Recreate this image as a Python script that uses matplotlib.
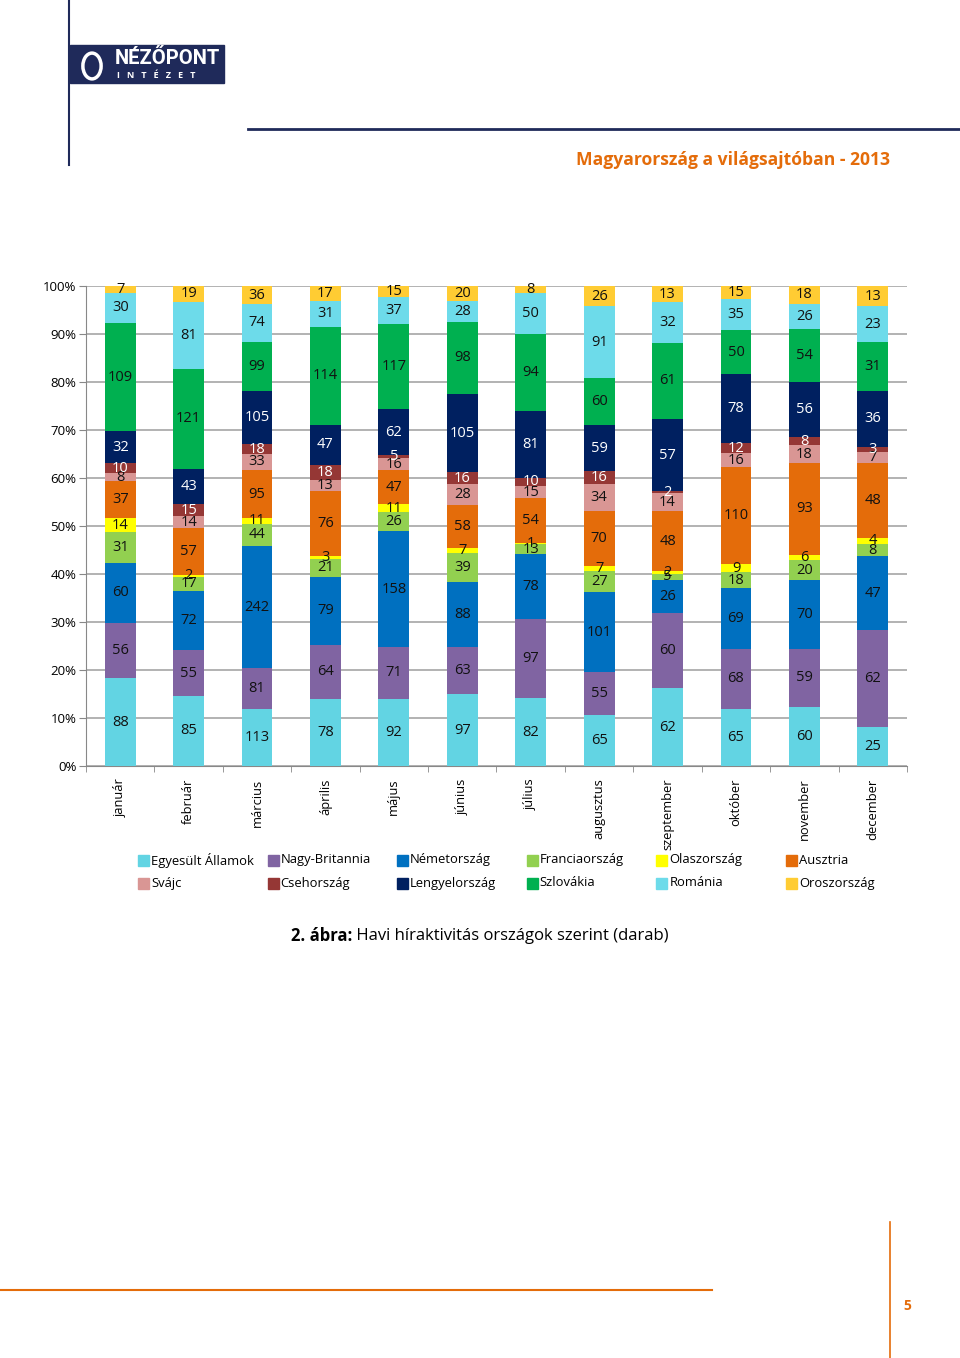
import numpy as np
import matplotlib
matplotlib.use("Agg")
import matplotlib.pyplot as plt
from matplotlib.patches import Rectangle, Circle
from matplotlib.lines import Line2D

plt.rcParams['font.family'] = ['Open Sans', 'DejaVu Sans']

# months and countries (stack order bottom -> top)
months = ["január", "február", "március", "április", "május", "június",
          "július", "augusztus", "szeptember", "október", "november", "december"]
countries = ["Egyesült Államok", "Nagy-Britannia", "Németország", "Franciaország",
             "Olaszország", "Ausztria", "Svájc", "Csehország", "Lengyelország",
             "Szlovákia", "Románia", "Oroszország"]
colors = ["#62d4e3", "#8064a2", "#0070c0", "#92d050", "#ffff00", "#e46c0a",
          "#d99694", "#953735", "#002060", "#00b050", "#6ddbea", "#ffcc33"]
label_colors = ["#111111"] * 7 + ["white", "white"] + ["#111111"] * 3

# news counts per country, one value per month
usa = [88, 85, 113, 78, 92, 97, 82, 65, 62, 65, 60, 25]
gbr = [56, 55, 81, 64, 71, 63, 97, 55, 60, 68, 59, 62]
deu = [60, 72, 242, 79, 158, 88, 78, 101, 26, 69, 70, 47]
fra = [31, 17, 44, 21, 26, 39, 13, 27, 5, 18, 20, 8]
ita = [14, 2, 11, 3, 11, 7, 1, 7, 2, 9, 6, 4]
aut = [37, 57, 95, 76, 47, 58, 54, 70, 48, 110, 93, 48]
che = [8, 14, 33, 13, 16, 28, 15, 34, 14, 16, 18, 7]
cze = [10, 15, 18, 18, 5, 16, 10, 16, 2, 12, 8, 3]
pol = [32, 43, 105, 47, 62, 105, 81, 59, 57, 78, 56, 36]
svk = [109, 121, 99, 114, 117, 98, 94, 60, 61, 50, 54, 31]
rou = [30, 81, 74, 31, 37, 28, 50, 91, 32, 35, 26, 23]
rus = [7, 19, 36, 17, 15, 20, 8, 26, 13, 15, 18, 13]

series = [usa, gbr, deu, fra, ita, aut, che, cze, pol, svk, rou, rus]

W, H = 960, 1358
fig = plt.figure(figsize=(W / 100, H / 100), dpi=100)


def fx(px):
    return px / W


def fy(py):
    return 1 - py / H


# chart area
ax = fig.add_axes([fx(86), fy(766), fx(907) - fx(86), fy(286) - fy(766)])
counts = np.array(series, dtype=float)
shares = counts / counts.sum(axis=0) * 100
x = np.arange(len(months))
bottom = np.zeros(len(months))
for i in range(len(countries)):
    ax.bar(x, shares[i], 0.45, bottom=bottom, color=colors[i], zorder=3)
    for j in range(len(months)):
        ax.text(x[j], bottom[j] + shares[i][j] / 2, str(series[i][j]),
                ha='center', va='center', fontsize=10.5,
                color=label_colors[i], zorder=4)
    bottom += shares[i]

ax.set_xlim(-0.5, len(months) - 0.5)
ax.set_ylim(0, 100)
ax.set_yticks(np.arange(0, 101, 10))
ax.set_yticklabels([f"{v}%" for v in range(0, 101, 10)], fontsize=9.5)
ax.yaxis.grid(True, color='#a6a6a6', linewidth=1.2, zorder=0)
ax.set_xticks(x)
ax.set_xticklabels(months, rotation=90, fontsize=9.3, va='top')
ax.set_xticks(np.arange(-0.5, len(months)), minor=True)
ax.tick_params(axis='x', which='major', length=0, pad=9)
ax.tick_params(axis='x', which='minor', length=4, color='#888888')
ax.tick_params(axis='y', length=5, color='#888888', pad=2)
for s in ['top', 'right']:
    ax.spines[s].set_visible(False)
ax.spines['left'].set_color('#888888')
ax.spines['bottom'].set_color('#888888')

# legend laid out as a 2 x 6 table
for i, name in enumerate(countries):
    col, row = i % 6, i // 6
    lx = 138 + col * 129.6
    ly = 860 + row * 23
    fig.patches.append(Rectangle((fx(lx), fy(ly + 5.5)), fx(11), 11 / H,
                                 transform=fig.transFigure, color=colors[i]))
    fig.text(fx(lx + 13), fy(ly), name, fontsize=9.4, va='center', ha='left')

# caption: bold prefix + regular text, centred together
renderer = fig.canvas.get_renderer()
t1 = fig.text(0, fy(936), "2. ábra:", fontsize=12, fontweight='bold',
              ha='left', va='center')
t2 = fig.text(0, fy(936), " Havi híraktivitás országok szerint (darab)",
              fontsize=12, ha='left', va='center')
w1 = t1.get_window_extent(renderer).width
w2 = t2.get_window_extent(renderer).width
start = (W - (w1 + w2)) / 2
t1.set_x(fx(start))
t2.set_x(fx(start + w1))

# page header
navy = '#1f2a5a'
fig.add_artist(Line2D([fx(69), fx(69)], [fy(0), fy(165)], color=navy, lw=1.5))
fig.add_artist(Line2D([fx(248), fx(960)], [fy(129), fy(129)], color=navy, lw=2))
fig.patches.append(Rectangle((fx(70), fy(83)), fx(154), 38 / H,
                             transform=fig.transFigure, color=navy))
fig.patches.append(Circle((fx(92), fy(66)), 0.0095, transform=fig.transFigure,
                          fill=False, edgecolor='white', lw=2.5))
fig.text(fx(115), fy(58), "NÉZŐPONT", color='white', fontsize=14.5,
         fontweight='bold', va='center', ha='left', family='Roboto')
fig.text(fx(117), fy(75), "I   N   T   É   Z   E   T", color='white', fontsize=6.5,
         fontweight='bold', va='center', ha='left')
fig.text(fx(890), fy(160), "Magyarország a világsajtóban - 2013",
         color='#e46c0a', fontsize=12.6, fontweight='bold', ha='right', va='center')

# page footer
orange = '#e46c0a'
fig.add_artist(Line2D([fx(0), fx(712)], [fy(1290), fy(1290)], color=orange, lw=1.5))
fig.add_artist(Line2D([fx(890), fx(890)], [fy(1222), fy(1358)], color=orange, lw=1.2))
fig.text(fx(907), fy(1306), "5", color=orange, fontsize=10, fontweight='bold',
         ha='center', va='center')

fig.savefig("out.png", dpi=100)
